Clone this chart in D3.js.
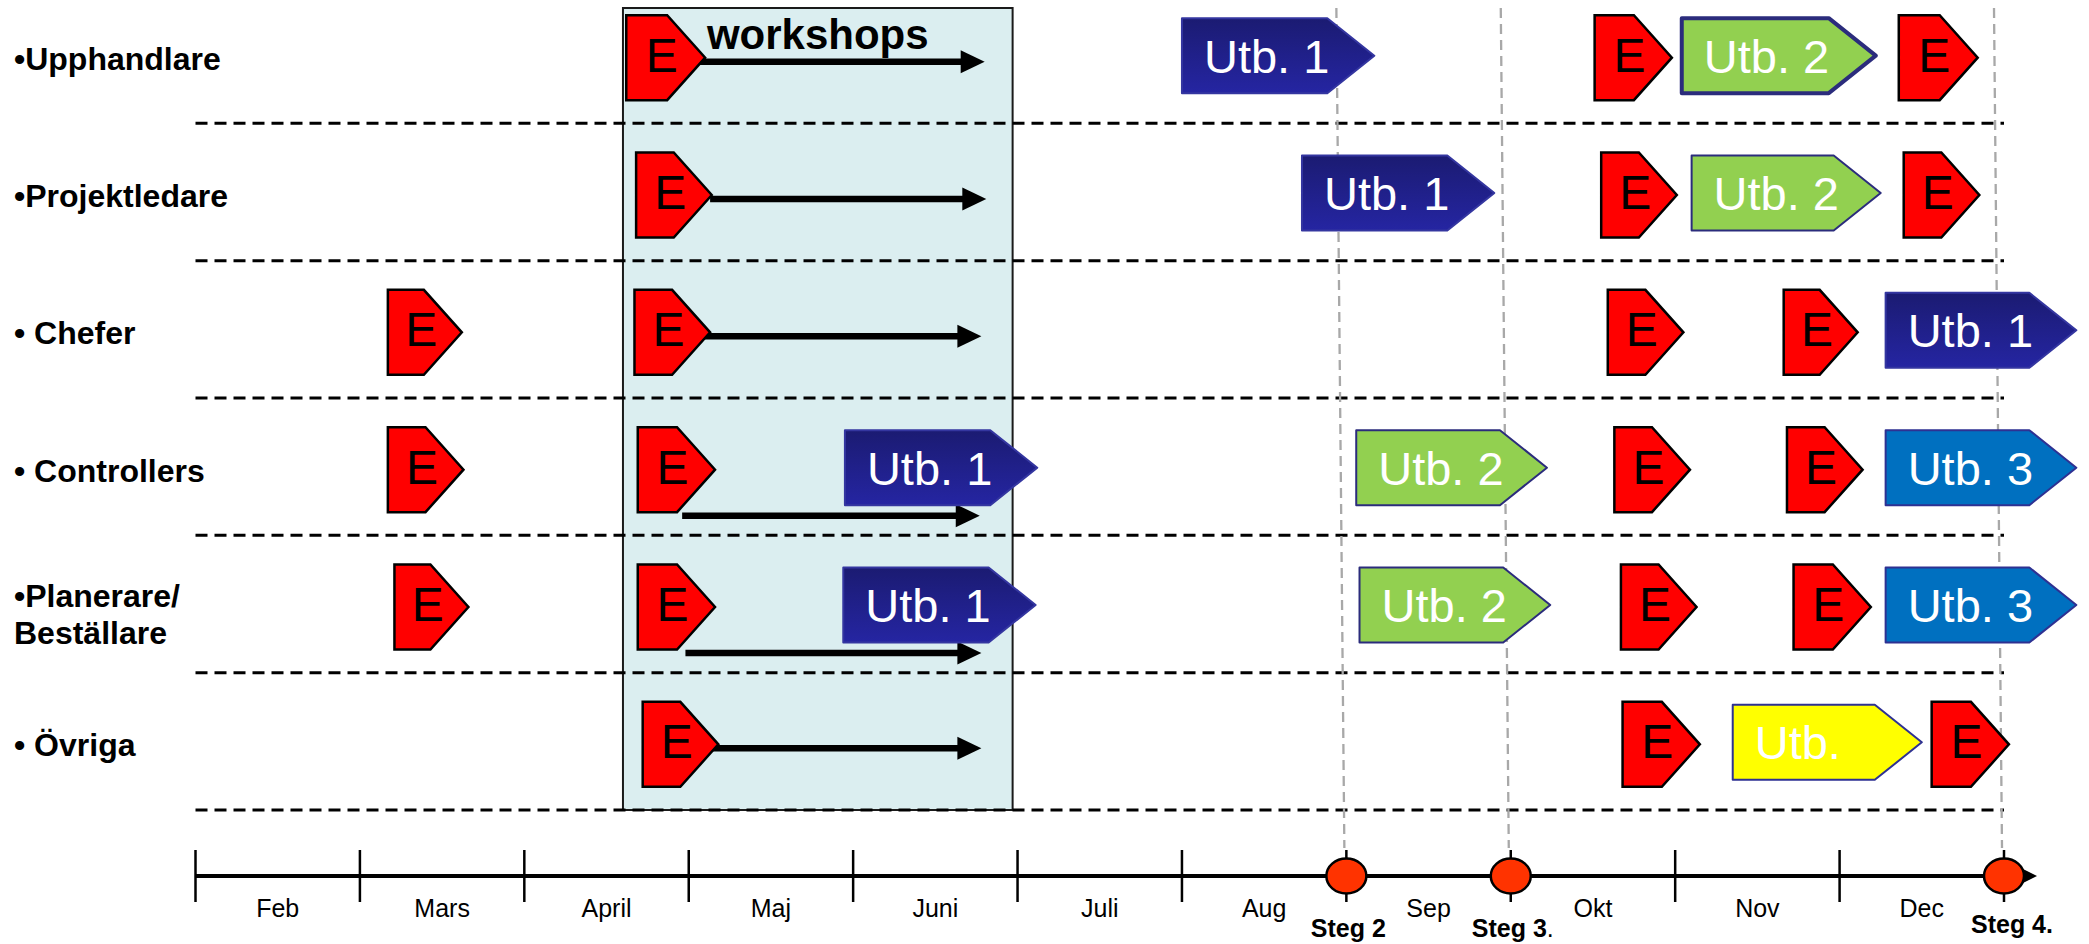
<!DOCTYPE html>
<html>
<head>
<meta charset="utf-8">
<script src="https://cdn.jsdelivr.net/npm/d3@7"></script>
<style>
  html, body { margin: 0; padding: 0; background: #ffffff; }
  svg { display: block; font-family: "Liberation Sans", Arial, Helvetica, sans-serif; }
</style>
</head>
<body>
<svg id="chart" width="2089" height="944"></svg>
<script>
// ---------------- DATA ----------------
// Timeline in month units: 0 = start of Feb, 11 = end of Dec
const months = ["Feb", "Mars", "April", "Maj", "Juni", "Juli", "Aug", "Sep", "Okt", "Nov", "Dec"];

const rowKeys = ["Upphandlare", "Projektledare", "Chefer", "Controllers", "Planerare", "Övriga"];
const rowLabels = [["•Upphandlare"], ["•Projektledare"], ["• Chefer"], ["• Controllers"], ["•Planerare/", "Beställare"], ["• Övriga"]];

// [row, start, end]  – "E" (evaluation) markers
const evaluations = [
  ["Upphandlare", 2.62, 3.10],
  ["Upphandlare", 8.51, 8.98],
  ["Upphandlare", 10.36, 10.84],
  ["Projektledare", 2.68, 3.14],
  ["Projektledare", 8.55, 9.01],
  ["Projektledare", 10.39, 10.85],
  ["Chefer", 1.17, 1.62],
  ["Chefer", 2.67, 3.13],
  ["Chefer", 8.59, 9.05],
  ["Chefer", 9.66, 10.11],
  ["Controllers", 1.17, 1.63],
  ["Controllers", 2.69, 3.16],
  ["Controllers", 8.63, 9.09],
  ["Controllers", 9.68, 10.14],
  ["Planerare", 1.21, 1.66],
  ["Planerare", 2.69, 3.16],
  ["Planerare", 8.67, 9.13],
  ["Planerare", 9.72, 10.19],
  ["Övriga", 2.72, 3.18],
  ["Övriga", 8.68, 9.15],
  ["Övriga", 10.56, 11.03]
];

// [row, label, start, end] – training blocks
const trainings = [
  ["Upphandlare", "Utb. 1", 6.00, 7.17],
  ["Upphandlare", "Utb. 2", 9.04, 10.22],
  ["Projektledare", "Utb. 1", 6.73, 7.90],
  ["Projektledare", "Utb. 2", 9.10, 10.25],
  ["Chefer", "Utb. 1", 10.28, 11.44],
  ["Controllers", "Utb. 1", 3.95, 5.12],
  ["Controllers", "Utb. 2", 7.06, 8.22],
  ["Controllers", "Utb. 3", 10.28, 11.44],
  ["Planerare", "Utb. 1", 3.94, 5.11],
  ["Planerare", "Utb. 2", 7.08, 8.24],
  ["Planerare", "Utb. 3", 10.28, 11.44],
  ["Övriga", "Utb.", 9.35, 10.50]
];

// [row, start, end, lane] – workshop arrows
const workshopArrows = [
  ["Upphandlare", 3.01, 4.80, "mid"],
  ["Projektledare", 3.13, 4.81, "mid"],
  ["Chefer", 3.04, 4.78, "mid"],
  ["Controllers", 2.96, 4.77, "below"],
  ["Planerare", 2.98, 4.78, "below"],
  ["Övriga", 3.13, 4.78, "mid"]
];

const workshopPeriod = [2.60, 4.97];
const workshopTitle = "workshops";

// [label, month boundary]
const milestones = [["Steg 2", 7], ["Steg 3", 8], ["Steg 4.", 11]];

// ---------------- STYLES ----------------
const trainingFill = { "Utb. 1": "url(#navyGrad)", "Utb. 2": "#92D050", "Utb. 3": "#0070C0", "Utb.": "#FFFF00" };
const trainingStroke = { "Utb. 1": "#3436A0", "Utb. 2": "#2B2C7C", "Utb. 3": "#2E3192", "Utb.": "#2E3192" };

// ---------------- SCALES ----------------
const svg = d3.select("#chart");
const x = d3.scaleLinear().domain([0, 11]).range([195.5, 2004]);
const y = d3.scaleBand().domain(rowKeys).range([-14, 810]);
const yc = r => y(r) + y.bandwidth() / 2 + 3;
const axisY = 876;

const defs = svg.append("defs");
const g1 = defs.append("linearGradient").attr("id", "navyGrad").attr("x1", 0).attr("y1", 0).attr("x2", 0).attr("y2", 1);
g1.append("stop").attr("offset", "0%").attr("stop-color", "#1B1B72");
g1.append("stop").attr("offset", "100%").attr("stop-color", "#2525A2");

function pentagon(x0, x1, cy, h, tip) {
  return [[x0, cy - h / 2], [x1 - tip, cy - h / 2], [x1, cy], [x1 - tip, cy + h / 2], [x0, cy + h / 2]]
    .map(p => p.join(",")).join(" ");
}

// workshop box
svg.append("rect")
  .attr("x", x(workshopPeriod[0])).attr("y", 8)
  .attr("width", x(workshopPeriod[1]) - x(workshopPeriod[0]))
  .attr("height", 810 - 8)
  .attr("fill", "#DBEEF0").attr("stroke", "#1a1a1a").attr("stroke-width", 2);

// row separators
svg.append("g").selectAll("line").data(rowKeys).join("line")
  .attr("x1", x(0)).attr("x2", x(11))
  .attr("y1", d => y(d) + y.bandwidth()).attr("y2", d => y(d) + y.bandwidth())
  .attr("stroke", "#000").attr("stroke-width", 3).attr("stroke-dasharray", "12,7");

// milestone guide lines
svg.append("g").selectAll("line").data(milestones).join("line")
  .attr("x1", d => x(d[1]) - 10).attr("y1", 8)
  .attr("x2", d => x(d[1]) - 2).attr("y2", 848)
  .attr("stroke", "#A8A8A8").attr("stroke-width", 2.3).attr("stroke-dasharray", "10,6");

// workshop arrows
const arrowG = svg.append("g");
workshopArrows.forEach(([r, s, e, lane]) => {
  const ay = yc(r) + (lane === "below" ? 46 : 4);
  const x0 = x(s), x1 = x(e);
  arrowG.append("line").attr("x1", x0).attr("x2", x1 - 20).attr("y1", ay).attr("y2", ay)
    .attr("stroke", "#000").attr("stroke-width", 6.5);
  arrowG.append("polygon")
    .attr("points", [[x1 - 24, ay - 11.5], [x1, ay], [x1 - 24, ay + 11.5]].map(p => p.join(",")).join(" "))
    .attr("fill", "#000");
});

// trainings
const tg = svg.append("g").selectAll("g").data(trainings).join("g");
tg.append("polygon")
  .attr("points", d => pentagon(x(d[2]), x(d[3]), yc(d[0]) - 2, 75, 47))
  .attr("fill", d => trainingFill[d[1]])
  .attr("stroke", d => trainingStroke[d[1]])
  .attr("stroke-width", d => (d[1] === "Utb. 2" && d[0] === "Upphandlare") ? 4 : 2)
  .attr("stroke-linejoin", "round");
tg.append("text")
  .attr("x", d => x(d[2]) + 22)
  .attr("y", d => yc(d[0]) - 2 + 17)
  .attr("fill", "#fff").attr("font-size", 47)
  .text(d => d[1]);

// evaluations
const eg = svg.append("g").selectAll("g").data(evaluations).join("g");
eg.append("polygon")
  .attr("points", d => pentagon(x(d[1]), x(d[2]), yc(d[0]), 85, 38))
  .attr("fill", "#FF0000").attr("stroke", "#000").attr("stroke-width", 2.5);
eg.append("text")
  .attr("x", d => x(d[1]) + (x(d[2]) - x(d[1])) * 0.45)
  .attr("y", d => yc(d[0]) + 14)
  .attr("text-anchor", "middle").attr("fill", "#000").attr("font-size", 48)
  .text("E");

// row labels
const lg = svg.append("g").selectAll("text").data(rowKeys).join("text")
  .attr("font-size", 32).attr("font-weight", "bold").attr("fill", "#000");
lg.each(function (r, i) {
  const lines = rowLabels[i];
  d3.select(this).selectAll("tspan").data(lines).join("tspan")
    .attr("x", 14)
    .attr("y", (l, j) => yc(r) + 12 + (j - (lines.length - 1) / 2) * 37 + (lines.length > 1 ? 6 : 0))
    .text(l => l);
});

// workshops title
svg.append("text")
  .attr("x", (x(workshopPeriod[0]) + x(workshopPeriod[1])) / 2)
  .attr("y", 49).attr("text-anchor", "middle")
  .attr("font-size", 42).attr("font-weight", "bold").attr("fill", "#000")
  .text(workshopTitle);

// ---------------- AXIS ----------------
const ax = svg.append("g");
ax.append("line").attr("x1", x(0)).attr("x2", x(11) + 20).attr("y1", axisY).attr("y2", axisY)
  .attr("stroke", "#000").attr("stroke-width", 4);
ax.append("polygon")
  .attr("points", [[x(11) + 16, axisY - 8.5], [x(11) + 33, axisY], [x(11) + 16, axisY + 8.5]].map(p => p.join(",")).join(" "))
  .attr("fill", "#000");
ax.selectAll("line.tick").data(d3.range(0, 12)).join("line").attr("class", "tick")
  .attr("x1", d => x(d)).attr("x2", d => x(d))
  .attr("y1", axisY - 26).attr("y2", axisY + 26)
  .attr("stroke", "#000").attr("stroke-width", 2.5);
ax.selectAll("text.month").data(months).join("text").attr("class", "month")
  .attr("x", (d, i) => x(i + 0.5)).attr("y", 917)
  .attr("text-anchor", "middle").attr("font-size", 25).attr("fill", "#000")
  .text(d => d);

// milestones
ax.selectAll("ellipse").data(milestones).join("ellipse")
  .attr("cx", d => x(d[1])).attr("cy", axisY)
  .attr("rx", 20).attr("ry", 17.5)
  .attr("fill", "#FF3300").attr("stroke", "#000").attr("stroke-width", 2.5);
const mt = ax.selectAll("text.ms").data(milestones).join("text").attr("class", "ms")
  .attr("x", d => x(d[1]) + (d[0] === "Steg 4." ? 8 : 2))
  .attr("y", d => d[0] === "Steg 4." ? 933 : 937)
  .attr("text-anchor", "middle").attr("font-size", 25).attr("fill", "#000");
mt.append("tspan").attr("font-weight", "bold").text(d => d[0]);
mt.filter(d => d[0] === "Steg 3").append("tspan").attr("font-weight", "normal").text(".");
</script>
</body>
</html>
